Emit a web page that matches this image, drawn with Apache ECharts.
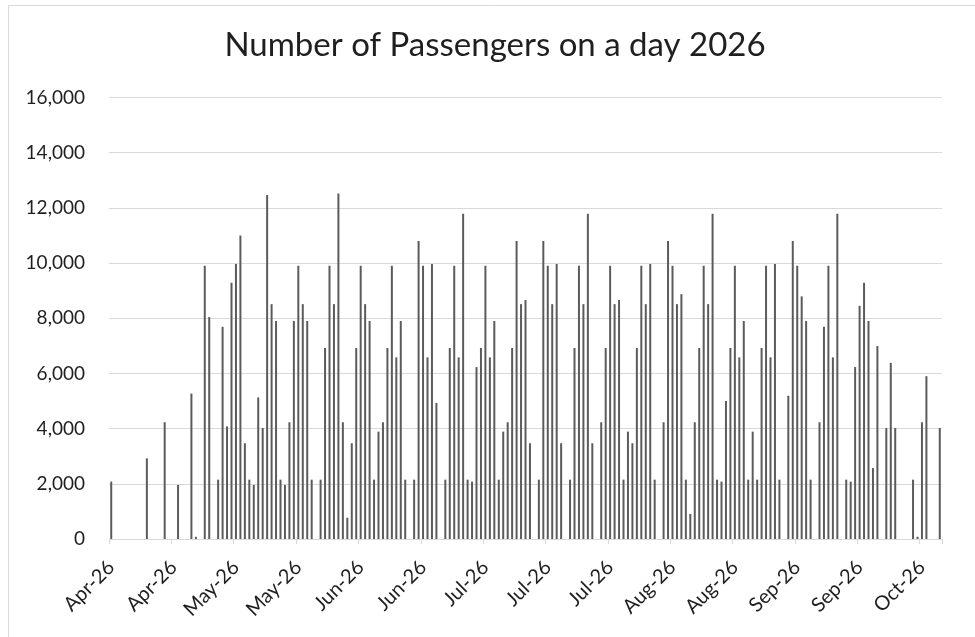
<!DOCTYPE html>
<html>
<head>
<meta charset="utf-8">
<script src="https://cdn.jsdelivr.net/npm/echarts@6/dist/echarts.min.js"></script>
<style>
  html, body { margin: 0; padding: 0; background: #fff; }
  #chart { width: 975px; height: 637px; }
</style>
</head>
<body>
<div id="chart"></div>
<script>
// ---- Data ----
const titleText = 'Number of Passengers on a day 2026';
const startDate = '2026-04-10';   // first day on the date axis
const dayCount = 187;
const tickLabels = ['Apr-26','Apr-26','May-26','May-26','Jun-26','Jun-26','Jul-26','Jul-26','Jul-26','Aug-26','Aug-26','Sep-26','Sep-26','Oct-26'];
const passengers = [
  2080,0,0,0,0,0,0,0,2920,0,
  0,0,4230,0,0,1960,0,0,5270,80,
  0,9900,8040,0,2150,7690,4080,9280,9960,11000,
  3470,2150,1960,5130,4020,12460,8510,7900,2150,1960,
  4230,7900,9900,8510,7900,2150,0,2150,6920,9900,
  8510,12520,4230,770,3470,6920,9900,8510,7900,2150,
  3890,4230,6920,9900,6580,7900,2150,0,2150,10800,
  9900,6580,9960,4930,0,2150,6920,9900,6580,11780,
  2150,2080,6230,6920,9900,6580,7900,2150,3890,4230,
  6920,10800,8510,8660,3470,0,2150,10800,9900,8510,
  9960,3470,0,2150,6920,9900,8510,11780,3470,0,
  4230,6920,9900,8510,8660,2150,3890,3470,6920,9900,
  8510,9960,2150,0,4230,10800,9900,8510,8870,2150,
  910,4230,6920,9900,8510,11780,2150,2080,5000,6920,
  9900,6580,7900,2150,3890,2150,6920,9900,6580,9960,
  2150,0,5190,10800,9900,8790,7900,2150,0,4230,
  7690,9900,6580,11780,0,2150,2080,6230,8450,9280,
  7900,2570,6990,0,4020,6380,4020,0,0,0,
  2150,80,4230,5900,0,0,4020
];
const yMin = 0, yMax = 16000, yStep = 2000;
const tickEvery = 14; // days between date-axis ticks

// ---- Build category list (one per day) ----
const categories = [];
{
  const d0 = new Date(startDate + 'T00:00:00Z');
  for (let i = 0; i < dayCount; i++) {
    const d = new Date(d0.getTime() + i * 86400000);
    categories.push(d.toISOString().slice(0, 10));
  }
}

const chart = echarts.init(document.getElementById('chart'), null, { renderer: 'canvas' });
const font = 'Lato, "Liberation Sans", sans-serif';

chart.setOption({
  animation: false,
  backgroundColor: '#ffffff',
  graphic: [{
    type: 'rect',
    shape: { x: 8.5, y: 5.5, width: 1000, height: 700 },
    style: { fill: 'none', stroke: '#d9d9d9', lineWidth: 1 },
    silent: true
  }],
  title: {
    text: titleText,
    left: 490,
    top: 24,
    textAlign: 'center',
    textStyle: { fontFamily: font, fontSize: 33, fontWeight: 'normal', color: '#1f1f1f' }
  },
  grid: { left: 109, right: 33, top: 97.4, bottom: 98, containLabel: false },
  xAxis: {
    type: 'category',
    data: categories,
    boundaryGap: true,
    axisLine: { show: true, lineStyle: { color: '#d9d9d9', width: 1 } },
    axisTick: { show: true, interval: tickEvery - 1, length: 5, lineStyle: { color: '#d9d9d9' } },
    axisLabel: {
      interval: tickEvery - 1,
      rotate: 45,
      margin: 25,
      fontFamily: font,
      fontSize: 20,
      color: '#1f1f1f',
      formatter: function (v, i) { return tickLabels[Math.round(i / tickEvery)] || ''; }
    },
    splitLine: { show: false }
  },
  yAxis: {
    type: 'value',
    min: yMin, max: yMax, interval: yStep,
    axisLine: { show: false },
    axisTick: { show: false },
    axisLabel: {
      margin: 24,
      fontFamily: font,
      fontSize: 19,
      color: '#1f1f1f',
      formatter: function (v) { return v.toLocaleString('en-US'); }
    },
    splitLine: { show: true, lineStyle: { color: '#d9d9d9', width: 1 } }
  },
  series: [{
    type: 'bar',
    data: passengers,
    barWidth: 2,
    itemStyle: { color: '#5b5b5b' }
  }]
});
</script>
</body>
</html>
